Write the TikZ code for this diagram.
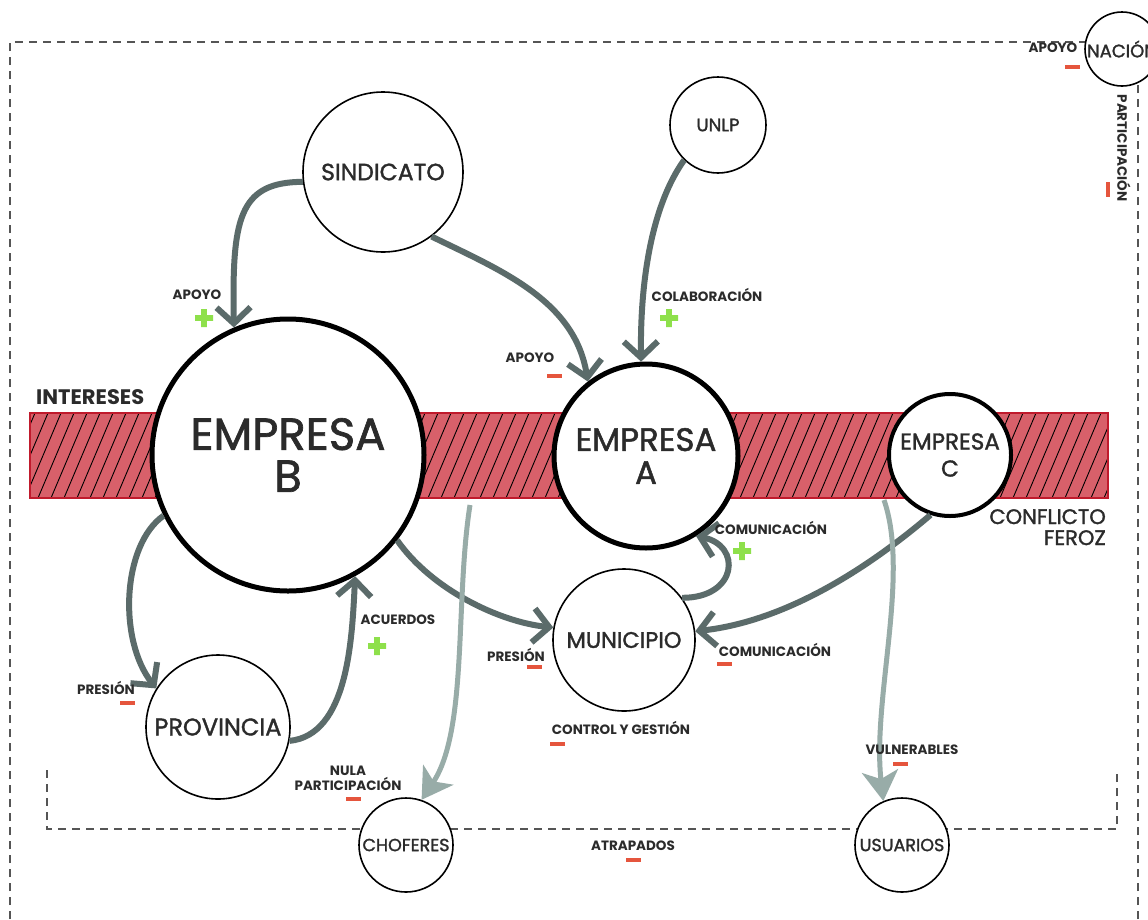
\documentclass[tikz,border=0pt]{standalone}
\usepackage{fontspec}
\setmainfont{Poppins}
\newfontfamily\med{Poppins}[FakeBold=1.5]
\usetikzlibrary{arrows.meta}
\definecolor{darr}{HTML}{5B6B6A}
\definecolor{larr}{HTML}{98ACA8}
\definecolor{bandfill}{HTML}{D8606A}
\definecolor{bandline}{HTML}{C01A2C}
\definecolor{minuscol}{HTML}{E5553D}
\definecolor{pluscol}{HTML}{8EE04B}
\definecolor{txt}{HTML}{2B2B2B}
\definecolor{framecol}{HTML}{555555}
\begin{document}
\begin{tikzpicture}[x=1pt,y=-1pt,
  ent/.style={circle, draw=black, fill=white, line width=1.6pt, inner sep=0pt, text=txt, align=center},
  bigent/.style={ent, line width=5pt},
  lbl/.style={font=\bfseries\fontsize{13.5}{15}\selectfont, text=txt, inner sep=0pt, align=center},
  minus/.style={fill=minuscol, minimum width=15pt, minimum height=4.5pt, inner sep=0pt},
  plusmark/.pic={\fill[pluscol] (-9,-2.8) rectangle (9,2.8) (-2.8,-9) rectangle (2.8,9);},
  darkarrow/.style={draw=darr, line width=6pt, -{Straight Barb[length=16pt, width=34pt, line width=6pt]}},
  lightarrow/.style={draw=larr, line width=5pt, -{Stealth[length=30pt, width=36pt, inset=8pt]}},
  frame/.style={draw=framecol, line width=2pt, dash pattern=on 8pt off 6pt},
]
\useasboundingbox (0,0) rectangle (1148,919);
\fill[white] (0,0) rectangle (1148,919);

% frames
\draw[frame] (10,919) -- (10,42) -- (1092,42);
\draw[frame] (1138,919) -- (1138,60);
\draw[frame] (47,770) -- (47,829) -- (1117,829) -- (1117,770);

% band
\begin{scope}
\clip (30,413) rectangle (1108,498);
\fill[bandfill] (30,413) rectangle (1108,498);
\foreach \x in {-40,-27,...,1110} \draw[black, line width=0.9pt] (\x,498) -- (\x+36,413);
\end{scope}
\draw[bandline, line width=2pt] (30,413) rectangle (1108,498);
\node[font=\bfseries\fontsize{21}{23}\selectfont, text=txt, anchor=south west, inner sep=0pt] (intereses) at (36,405) {INTERESES};
\node[font=\med\fontsize{21}{21}\selectfont, text=txt, anchor=north east, inner sep=0pt, align=right] (conflicto) at (1106,509) {CONFLICTO\\FEROZ};

% nodes
\node[ent, minimum size=160pt, font=\med\fontsize{23.5}{26}\selectfont] (S) at (383,172) {SINDICATO};
\node[ent, minimum size=96pt, font=\med\fontsize{18}{20}\selectfont] (U) at (718,125) {UNLP};
\node[bigent, minimum size=272pt, font=\med\fontsize{45}{42}\selectfont] (B) at (288,455) {EMPRESA\\B};
\node[bigent, minimum size=184pt, font=\med\fontsize{32.5}{33}\selectfont] (A) at (646,456) {EMPRESA\\A};
\node[ent, line width=4pt, minimum size=122pt, font=\med\fontsize{23}{27}\selectfont] (C) at (950,455) {EMPRESA\\C};
\node[ent, minimum size=142pt, font=\med\fontsize{22.5}{24}\selectfont] (M) at (624,640) {MUNICIPIO};
\node[ent, minimum size=144pt, font=\med\fontsize{24}{26}\selectfont] (P) at (218,727) {PROVINCIA};
\node[ent, minimum size=94pt, font=\med\fontsize{17.5}{19}\selectfont] (CH) at (406,845) {CHOFERES};
\node[ent, minimum size=94pt, font=\med\fontsize{17.5}{19}\selectfont] (US) at (902,845) {USUARIOS};
\node[ent, minimum size=74pt, font=\med\fontsize{18}{20}\selectfont] (N) at (1122,49) {NACIÓN};

% dark arrows
\draw[darkarrow] (S.187) .. controls (238,182) and (232,220) .. (B.113);
\draw[darkarrow] (S.-53) .. controls (500,270) and (575,300) .. (A.128);
\draw[darkarrow] (U.226) .. controls (652,205) and (640,280) .. (A.93);
\draw[darkarrow] (B.206) .. controls (122,545) and (118,640) .. (P.148);
\draw[darkarrow] (P.-11) .. controls (348,735) and (352,640) .. (B.-61);
\draw[darkarrow] (B.-38) .. controls (432,590) and (500,622) .. (M.170);
\draw[darkarrow] (C.-108) .. controls (860,575) and (780,622) .. (M.7);
\draw[darkarrow] (M.36) .. controls (738,598) and (742,545) .. (A.-58);

% light arrows
\coordinate (l1) at (470,505);
\coordinate (l2) at (884,500);
\draw[lightarrow] (l1) .. controls (455,600) and (468,730) .. (CH.71);
\draw[lightarrow] (l2) .. controls (910,575) and (872,700) .. (US.113);

% labels
\node[lbl] (t1) at (197,295) {APOYO};
\pic at (204,318) {plusmark};
\node[lbl] (t2) at (530,358) {APOYO};
\node[minus] at (554,376) {};
\node[lbl] (t3) at (707,295) {COLABORACIÓN};
\pic at (669,318) {plusmark};
\node[lbl] (t4) at (771,528) {COMUNICACIÓN};
\pic at (742,551) {plusmark};
\node[lbl] (t5) at (398,620) {ACUERDOS};
\pic at (377,646) {plusmark};
\node[lbl] (t6) at (106,688) {PRESIÓN};
\node[minus] at (127,703) {};
\node[lbl] (t7) at (516,655) {PRESIÓN};
\node[minus] at (534,667) {};
\node[lbl] (t8) at (775,650) {COMUNICACIÓN};
\node[minus] at (724,664) {};
\node[lbl] (t9) at (621,728) {CONTROL Y GESTIÓN};
\node[minus] at (557,744) {};
\node[lbl] (t10) at (348,778) {NULA\\PARTICIPACIÓN};
\node[minus] at (353,799) {};
\node[lbl] (t11) at (912,750) {VULNERABLES};
\node[minus] at (900,764) {};
\node[lbl] (t12) at (633,846) {ATRAPADOS};
\node[minus] at (633,860) {};
\node[lbl] (t13) at (1053,48) {APOYO};
\node[minus] at (1072,67) {};
\node[lbl, rotate=-90] (t14) at (1124,148) {PARTICIPACIÓN};
\node[minus, rotate=90] at (1108,189) {};
\end{tikzpicture}
\end{document}
